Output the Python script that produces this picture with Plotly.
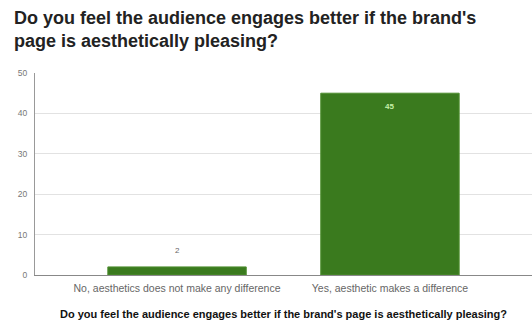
import plotly.graph_objects as go

# Survey responses
categories = ["No, aesthetics does not make any difference",
              "Yes, aesthetic makes a difference"]
counts = [2, 45]
y_ticks = [0, 10, 20, 30, 40, 50]

title_text = ("Do you feel the audience engages better if the brand's<br>"
              "page is aesthetically pleasing?")
axis_title = ("Do you feel the audience engages better if the brand's page "
              "is aesthetically pleasing?")

BAR_GREEN = "#3a7a1e"
FONT = "Arial, Liberation Sans, sans-serif"

# Plot area in pixels (used to place paper-referenced text)
W, H = 532, 322
L, R, T, B = 35, 0, 73, 47
PW, PH = W - L - R, H - T - B


def px_to_paper(x, y):
    return (x - L) / PW, (H - B - y) / PH


fig = go.Figure()
fig.add_trace(go.Bar(
    x=list(range(len(categories))),
    y=counts,
    width=0.65,
    marker=dict(color=BAR_GREEN, line=dict(color="#4f8f30", width=1)),
    hoverinfo="skip",
))

# Value labels: above the short bar, inside the top of the tall bar
annotations = []
for i, v in enumerate(counts):
    if v < 10:
        annotations.append(dict(x=i, y=v, xref="x", yref="y", text=str(v),
                                showarrow=False, yanchor="bottom", yshift=10,
                                font=dict(family=FONT, size=8, color="#666666")))
    else:
        annotations.append(dict(x=i, y=v, xref="x", yref="y", text=f"<b>{v}</b>",
                                showarrow=False, yanchor="top", yshift=-7,
                                font=dict(family=FONT, size=8, color="#c6f0a8")))

tx, ty = px_to_paper(12, 6)
annotations.append(dict(x=tx, y=ty, xref="paper", yref="paper",
                        text=f"<b>{title_text}</b>", showarrow=False,
                        xanchor="left", yanchor="top", align="left",
                        font=dict(family=FONT, size=18, color="#222222")))

ax, ay = px_to_paper(283, 314)
annotations.append(dict(x=ax, y=ay, xref="paper", yref="paper",
                        text=f"<b>{axis_title}</b>", showarrow=False,
                        xanchor="center", yanchor="middle",
                        font=dict(family=FONT, size=11, color="#111111")))

fig.update_layout(
    width=W, height=H,
    margin=dict(l=L, r=R, t=T, b=B),
    paper_bgcolor="white", plot_bgcolor="white",
    showlegend=False,
    xaxis=dict(
        range=[-0.667, 1.667],
        tickmode="array", tickvals=list(range(len(categories))), ticktext=categories,
        tickfont=dict(family=FONT, size=10.5, color="#666666"),
        showgrid=False, zeroline=False, showline=True, linecolor="#888888", linewidth=1,
        ticks="", ticklabelstandoff=3, fixedrange=True,
    ),
    yaxis=dict(
        range=[0, 50], tickmode="array", tickvals=y_ticks,
        tickfont=dict(family=FONT, size=8.5, color="#777777"),
        showgrid=True, gridcolor="#e2e2e2", gridwidth=1,
        zeroline=False, showline=True, linecolor="#999999", linewidth=1,
        ticks="", ticklabelstandoff=5, fixedrange=True,
    ),
    annotations=annotations,
)

fig.write_html("out.html")
